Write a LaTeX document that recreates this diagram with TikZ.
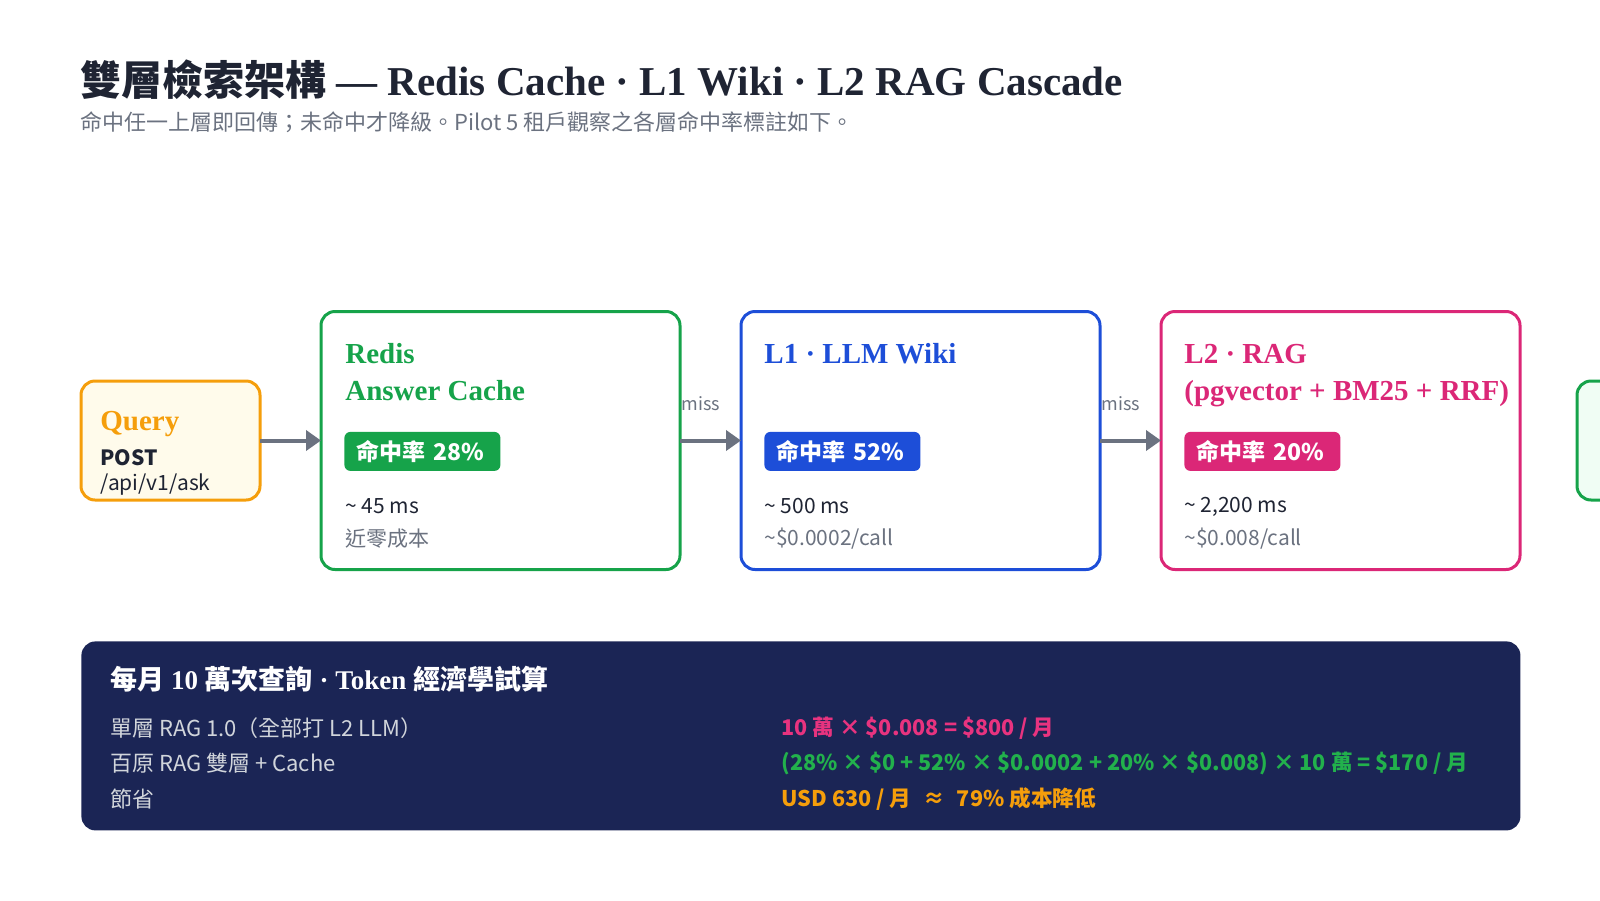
\documentclass[tikz,border=0pt]{standalone}
\usepackage{fontspec}
\setmainfont{Liberation Serif}
\newfontfamily\cjk{Noto Sans CJK TC}
\usetikzlibrary{positioning,calc,arrows.meta}
\newcommand\zh[1]{{\cjk #1}}
\definecolor{ink}{HTML}{1F2433}
\definecolor{subgray}{HTML}{6B7280}
\definecolor{qorange}{HTML}{F59E0B}
\definecolor{qcream}{HTML}{FFFBEB}
\definecolor{cgreen}{HTML}{16A34A}
\definecolor{cmint}{HTML}{F0FDF4}
\definecolor{wblue}{HTML}{1D4ED8}
\definecolor{rpink}{HTML}{DB2777}
\definecolor{navy}{HTML}{1B2555}
\definecolor{paneltext}{HTML}{D1D5DB}
\definecolor{lpink}{HTML}{E8337F}
\definecolor{lgreen}{HTML}{22B14C}
\tikzset{
  stage/.style={draw, line width=1.5pt, rounded corners=7pt, fill=white, outer sep=0pt,
    minimum width=179.5pt, minimum height=129pt},
  entry/.style={stage, minimum width=89.5pt, minimum height=59.5pt},
  head/.style={anchor=base west, align=left, inner sep=0pt, font=\bfseries\fontsize{14.5}{18.5}\selectfont},
  stat/.style={anchor=west, inner sep=0pt, text=ink, font=\cjk\fontsize{10.5}{13}\selectfont},
  fee/.style={stat, text=subgray},
  badge/.style={anchor=north west, rounded corners=3pt, text=white, align=left,
    font=\cjk\bfseries\fontsize{11.5}{13}\selectfont,
    text width=66pt, inner xsep=6pt, minimum height=19.5pt},
  flow/.style={draw=subgray, line width=2pt, -{Triangle[length=7.5pt,width=10pt]}},
  miss/.style={anchor=west, inner sep=0pt, text=subgray, font=\cjk\fontsize{9}{11}\selectfont},
  row/.style={anchor=west, inner sep=0pt, text=paneltext, font=\cjk\fontsize{11}{13}\selectfont},
  sum/.style={anchor=west, inner sep=0pt, font=\cjk\bfseries\fontsize{10.8}{13}\selectfont}
}
\begin{document}
\begin{tikzpicture}[x=0.5pt,y=-0.5pt]
\useasboundingbox (0,0) rectangle (1600,900);

% title
\node[anchor=west, inner sep=0pt, text=ink, font=\bfseries\fontsize{20.5}{25}\selectfont] (title) at (80,80)
  {\zh{雙層檢索架構} — Redis Cache · L1 Wiki · L2 RAG Cascade};
\node[anchor=west, inner sep=0pt, text=subgray, font=\cjk\fontsize{11}{13}\selectfont] (subtitle) at (80,122)
  {命中任一上層即回傳；未命中才降級。Pilot 5 租戶觀察之各層命中率標註如下。};

% cascade
\node[entry, draw=qorange, fill=qcream, anchor=north west] (query) at (81,381) {};
\node[stage, draw=cgreen, right=30.5pt of query] (redis) {};
\node[stage, draw=wblue, right=30.5pt of redis] (wiki) {};
\node[stage, draw=rpink, right=30.5pt of wiki] (rag) {};
\node[entry, draw=cgreen, fill=cmint, right=28.5pt of rag] (next) {};

\node[head, text=qorange] (query-head) at ($(query.north west)+(19,49)$) {Query};
\node[stat, font=\cjk\bfseries\fontsize{10.5}{13}\selectfont] (query-verb) at ($(query.north west)+(19,77)$) {POST};
\node[stat] (query-path) at ($(query.north west)+(19,104)$) {/api/v1/ask};

\node[head, text=cgreen] (redis-head) at ($(redis.north west)+(24,89)$) {Redis\\Answer Cache};
\node[badge, fill=cgreen] (redis-hit) at ($(redis.north west)+(23,120)$) {命中率 28\%};
\node[stat] (redis-time) at ($(redis.north west)+(24,195)$) {\textasciitilde{} 45 ms};
\node[fee] (redis-fee) at ($(redis.north west)+(24,227)$) {近零成本};

\node[head, text=wblue] (wiki-head) at ($(wiki.north west)+(23,52)$) {L1 · LLM Wiki};
\node[badge, fill=wblue] (wiki-hit) at ($(wiki.north west)+(23,120)$) {命中率 52\%};
\node[stat] (wiki-time) at ($(wiki.north west)+(23,195)$) {\textasciitilde{} 500 ms};
\node[fee] (wiki-fee) at ($(wiki.north west)+(23,227)$) {\textasciitilde\$0.0002/call};

\node[head, text=rpink] (rag-head) at ($(rag.north west)+(23,89)$) {L2 · RAG\\(pgvector + BM25 + RRF)};
\node[badge, fill=rpink] (rag-hit) at ($(rag.north west)+(23,120)$) {命中率 20\%};
\node[stat] (rag-time) at ($(rag.north west)+(23,195)$) {\textasciitilde{} 2,200 ms};
\node[fee] (rag-fee) at ($(rag.north west)+(23,227)$) {\textasciitilde\$0.008/call};

\draw[flow] (query) -- (redis);
\draw[flow] (redis) -- (wiki);
\draw[flow] (wiki) -- (rag);
\node[miss] (miss-1) at ($(redis.east)+(1,-37)$) {miss};
\node[miss] (miss-2) at ($(wiki.east)+(1,-37)$) {miss};

% cost panel
\node[anchor=north west, fill=navy, rounded corners=7pt, minimum width=719.5pt, minimum height=94.5pt] (cost) at (81,641) {};
\node[anchor=west, inner sep=0pt, text=white, font=\bfseries\fontsize{13.5}{16}\selectfont] (cost-head)
  at ($(cost.north west)+(29,38)$) {\zh{每月} 10 \zh{萬次查詢} · Token \zh{經濟學試算}};
\node[row] (row-1) at ($(cost.north west)+(29,87)$) {單層 RAG 1.0（全部打 L2 LLM）};
\node[row] (row-2) at ($(cost.north west)+(29,122)$) {百原 RAG 雙層 + Cache};
\node[row] (row-3) at ($(cost.north west)+(29,158)$) {節省};
\node[sum, text=lpink] (sum-1) at ($(cost.north west)+(700,87)$) {10 萬 × \$0.008 = \$800 / 月};
\node[sum, text=lgreen] (sum-2) at ($(cost.north west)+(700,122)$)
  {(28\% × \$0 + 52\% × \$0.0002 + 20\% × \$0.008) × 10 萬 = \$170 / 月};
\node[sum, text=qorange] (sum-3) at ($(cost.north west)+(700,158)$) {USD 630 / 月\hspace{6pt}≈\hspace{6pt}79\% 成本降低};
\end{tikzpicture}
\end{document}
